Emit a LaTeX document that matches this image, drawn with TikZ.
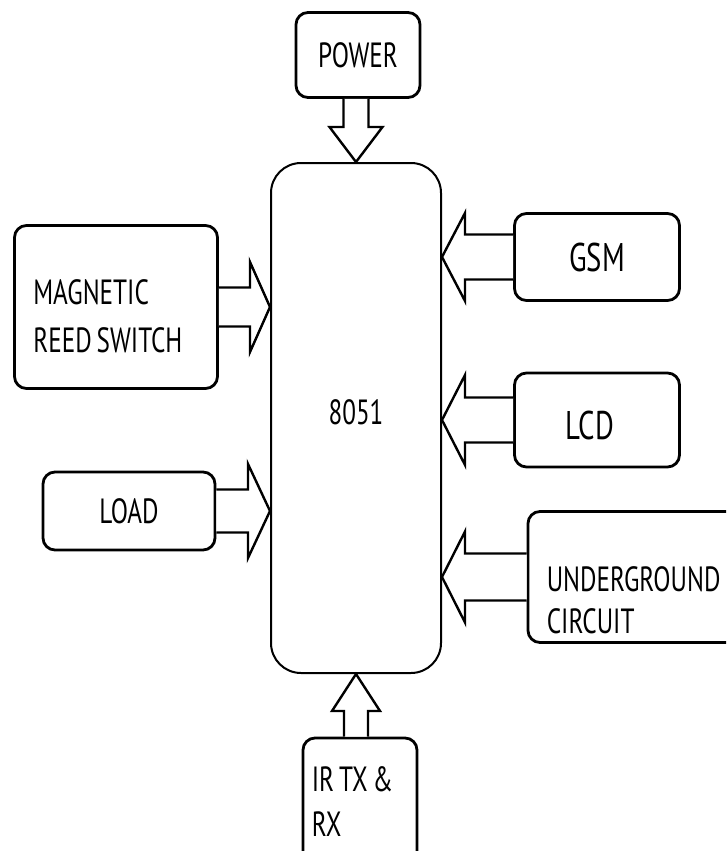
\documentclass[tikz,border=0pt]{standalone}
\usepackage{fontspec}
\setmainfont{PT Sans}[FakeStretch=0.72]
\usetikzlibrary{calc,positioning}
\definecolor{ink}{RGB}{0,0,0}
\newcommand\boxfont[2]{\fontsize{#1}{#2}\selectfont\spaceskip=0.14em plus 0.05em}
\tikzset{
  blockbox/.style={draw=ink,line width=2.8pt,rounded corners=12pt,fill=white,
    font=\boxfont{35}{46}},
  boxtext/.style={align=left,inner sep=0pt,font=\boxfont{35}{#1}},
  boxtext/.default=46,
  fatarrow/.style={draw=ink,line width=2.4pt,fill=white,line join=miter},
}
% hollow block arrow: #1 from, #2 tip, #3 shaft half width, #4 head half width, #5 head length
\newcommand\fatarrow[5]{%
  \path ($(#2)!#5!(#1)$) coordinate (fa-h);
  \draw[fatarrow] ($(#1)!#3!90:(#2)$) -- ($(fa-h)!#3!90:(#2)$) -- ($(fa-h)!#4!90:(#2)$)
    -- (#2) -- ($(fa-h)!#4!-90:(#2)$) -- ($(fa-h)!#3!-90:(#2)$) -- ($(#1)!#3!-90:(#2)$);
}
\begin{document}
\begin{tikzpicture}[x=1pt,y=-1pt]
  \clip (0,0) rectangle (726,851);
  \useasboundingbox (0,0) rectangle (726,851);
  \node[blockbox,rounded corners=30pt,line width=2pt,minimum width=170pt,minimum height=510pt] (mcu) at (356,418) {};
  \node[boxtext] (mcutext) at (356,412) {8051};
  \node[blockbox,minimum width=124pt,minimum height=85pt] (pow) at (358,55) {POWER};
  \node[blockbox,minimum width=203pt,minimum height=163pt] (mag) at (116,307) {};
  \node[boxtext=48,anchor=west] (magtext) at ($(mag.west)+(20,9)$) {MAGNETIC\\REED SWITCH};
  \node[blockbox,minimum width=172pt,minimum height=78pt] (load) at (129,511) {LOAD};
  \node[blockbox,minimum width=165pt,minimum height=87pt,font=\boxfont{40}{50}] (gsm) at (597,257) {GSM};
  \node[blockbox,minimum width=165pt,minimum height=94pt] (lcd) at (597,420) {};
  \node[boxtext,font=\boxfont{40}{50}] (lcdtext) at ($(lcd.center)+(-7,5)$) {LCD};
  \node[blockbox,minimum width=212pt,minimum height=131pt] (ug) at (634,577) {};
  \node[boxtext=42,anchor=west] (ugtext) at ($(ug.west)+(20,23)$) {UNDERGROUND\\CIRCUIT};
  \node[blockbox,minimum width=114pt,minimum height=132pt] (ir) at (360,804) {};
  \node[boxtext=45,anchor=west] (irtext) at ($(ir.west)+(10,-2)$) {IR TX \&\\RX};
  % connectors
  \fatarrow{pow.south -| mcu.north}{mcu.north}{12.5pt}{26.5pt}{35pt}
  \fatarrow{mag.east}{mcu.west |- mag.east}{19.5pt}{45pt}{20pt}
  \fatarrow{load.east}{mcu.west |- load.east}{21.5pt}{47pt}{22pt}
  \fatarrow{gsm.west}{mcu.east |- gsm.west}{22.5pt}{44pt}{23pt}
  \fatarrow{lcd.west}{mcu.east |- lcd.west}{22.5pt}{45pt}{23pt}
  \fatarrow{ug.west}{mcu.east |- ug.west}{23.5pt}{45.5pt}{23pt}
  \fatarrow{ir.north -| mcu.south}{mcu.south}{12pt}{24pt}{37pt}
\end{tikzpicture}
\end{document}
